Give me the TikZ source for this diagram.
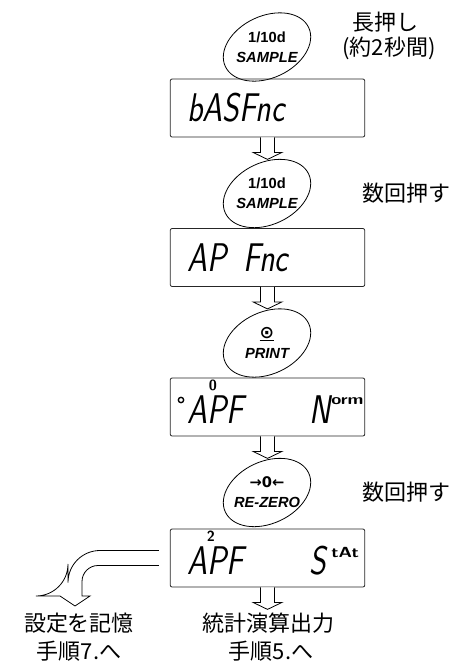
\documentclass[tikz,border=0pt]{standalone}
\usepackage{fontspec}
\newfontfamily\jpfont{Noto Sans CJK JP}
\newfontfamily\arialfont{Liberation Sans}
\newfontfamily\dvfont{DejaVu Sans}
\usetikzlibrary{calc}
\tikzset{
  disp/.style={draw=black!85, line width=0.6pt, rounded corners=1.5pt,
               minimum width=146pt, minimum height=43.5pt},
  dbig/.style={anchor=west, inner sep=0pt, font=\sffamily\itshape\fontsize{30}{30}\selectfont},
  dsml/.style={inner sep=0pt, font=\sffamily\bfseries\fontsize{11}{11}\selectfont},
  key/.style={align=center, inner sep=0pt, font=\arialfont\bfseries\fontsize{11}{15}\selectfont},
  kov/.style={draw, line width=0.6pt},
  note/.style={inner sep=0pt, font=\jpfont\fontsize{16.5}{16.5}\selectfont},
  barr/.style={draw, fill=white, line width=0.6pt},
  blkdown/.pic={\draw[barr] (-7,0) -- (-7,15) -- (-14.5,15) -- (0,22) -- (14.5,15) -- (7,15) -- (7,0);},
}
\newcommand{\narrow}[1]{\scalebox{0.8}[1]{#1}}

\begin{document}
\begin{tikzpicture}[x=0.75pt, y=-0.75pt]
  \useasboundingbox (0,0) rectangle (466,665);
  % keys
  \node[key] (key1) at (267,47) {1/10d\\\itshape SAMPLE};
  \node[key] (key2) at (267,193.5) {1/10d\\\itshape SAMPLE};
  \node[key] (key3) at (267,343) {\underline{\dvfont\bfseries\fontsize{13}{13}\selectfont ⊙}\\\itshape PRINT};
  \node[key] (key4) at (267,492.5) {{\dvfont\bfseries →0←}\\\itshape RE-ZERO};
  \foreach \k in {key1,key2,key3,key4}
    \draw[kov, rotate around={25:(\k.center)}] (\k.center) ellipse [x radius=46, y radius=31];
  % displays
  \node[disp] (disp1) at (267.5,108) {};
  \node[disp] (disp2) at (267.5,257.5) {};
  \node[disp] (disp3) at (267.5,407) {};
  \node[disp] (disp4) at (267.5,558) {};
  \node[dbig] (d1a) at (187,108) {\narrow{bASFnc}};
  \node[dbig] (d2a) at (187,257.5) {\narrow{AP\hphantom{S}Fnc}};
  \node[circle, draw, line width=1pt, minimum size=4pt, inner sep=0pt] (ind) at (181,400) {};
  \node[dbig] (d3a) at (187,410) {\narrow{APF}};
  \node[dsml] (d3b) at (213,385) {0};
  \node[dbig] (d3c) at (309,410) {\narrow{N}};
  \node[dsml, anchor=west] (d3d) at (331,401) {\scalebox{1.25}[1]{orm}};
  \node[dbig] (d4a) at (187,561) {\narrow{APF}};
  \node[dsml] (d4b) at (211,536) {2};
  \node[dbig] (d4c) at (309,561) {\narrow{S}};
  \node[dsml, anchor=west] (d4d) at (331,552) {\scalebox{1.25}[1]{tAt}};
  % arrows
  \pic at (disp1.south) {blkdown};
  \pic at (disp2.south) {blkdown};
  \pic at (disp3.south) {blkdown};
  \pic at (disp4.south) {blkdown};
  \coordinate (bnd) at ($(disp4.west)+(-11,0)$);
  \draw[barr] ($(bnd)+(0,-7.5)$) [rounded corners=24pt] -| (68,596) [sharp corners]
    -- (60,596) -- (75,606) -- (90,596) -- (82,596) [rounded corners=12pt] |- ($(bnd)+(0,7.5)$);
  % notes
  \node[note] (n1) at (385,22) {長押し};
  \node[note] (n2) at (389,48) {(約2秒間)};
  \node[note] (n3) at (406,193) {数回押す};
  \node[note] (n4) at (406,492) {数回押す};
  \node[note] (n5) at (79,623) {設定を記憶};
  \node[note] (n6) at (79,651) {手順7.へ};
  \node[note] (n7) at (268,623) {統計演算出力};
  \node[note] (n8) at (271,651) {手順5.へ};
\end{tikzpicture}
\end{document}
